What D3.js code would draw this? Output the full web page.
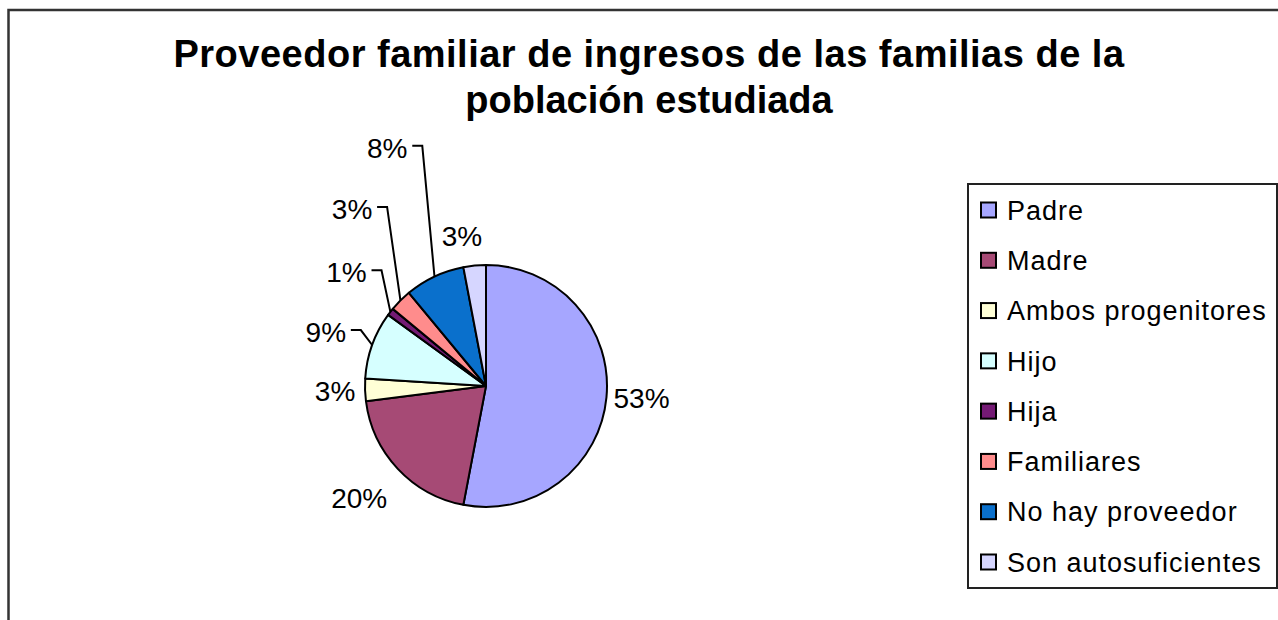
<!DOCTYPE html>
<html>
<head>
<meta charset="utf-8">
<script src="https://cdn.jsdelivr.net/npm/d3@7"></script>
<style>
  body { margin: 0; background: #fff; }
  svg text { font-family: Arial, "Liberation Sans", sans-serif; }
</style>
</head>
<body>
<div id="chart"></div>
<script>
// data
const categories = ["Padre", "Madre", "Ambos progenitores", "Hijo", "Hija", "Familiares", "No hay proveedor", "Son autosuficientes"];
const values = [53, 20, 3, 9, 1, 3, 8, 3];
const valueLabels = ["53%", "20%", "3%", "9%", "1%", "3%", "8%", "3%"];
const titleLines = ["Proveedor familiar de ingresos de las familias de la", "población estudiada"];

// styling / label placement (angle in degrees from 12 o'clock, distance from centre)
const colors = ["#a6a6ff", "#a64a75", "#ffffd6", "#d6ffff", "#741a74", "#ff8c8c", "#0a70cc", "#d6d6ff"];
const labelAngle = [94.4, 228.6, 268.1, 288.6, 309.2, 322.9, 337.5, 350.9];
const labelDist = [156, 169, 151, 169, 180, 222, 258, 152];
const hasLeader = [false, false, false, true, true, true, true, false];

const W = 1278, H = 620;
const cx = 486, cy = 386, radius = 121;

const svg = d3.select("#chart").append("svg")
    .attr("width", W)
    .attr("height", H);

// outer frame (runs off the right / bottom)
svg.append("rect")
    .attr("x", 8.5)
    .attr("y", 10)
    .attr("width", W + 20)
    .attr("height", H + 20)
    .attr("fill", "#fff")
    .attr("stroke", "#333")
    .attr("stroke-width", 2.5);

// title
svg.append("g").selectAll("text")
    .data(titleLines)
    .enter()
    .append("text")
    .attr("x", 649)
    .attr("y", (d, i) => 67 + i * 46)
    .attr("text-anchor", "middle")
    .style("font-size", "38px")
    .style("font-weight", "bold")
    .style("letter-spacing", (d, i) => i === 0 ? "0.5px" : "0px")
    .attr("fill", "#000")
    .text(d => d);

const pie = d3.pie().sort(null).value(d => d);
const arcs = pie(values);
const arc = d3.arc().innerRadius(0).outerRadius(radius);

const g = svg.append("g").attr("transform", `translate(${cx},${cy})`);

g.selectAll(".slice")
    .data(arcs)
    .enter()
    .append("path")
    .attr("class", "slice")
    .attr("d", arc)
    .attr("fill", (d, i) => colors[i])
    .attr("stroke", "#000")
    .attr("stroke-width", 2)
    .attr("stroke-linejoin", "round");

// value labels
const rad = Math.PI / 180;
const labelPos = arcs.map((d, i) => d3.pointRadial(labelAngle[i] * rad, labelDist[i]));

g.selectAll(".lbl")
    .data(arcs)
    .enter()
    .append("text")
    .attr("class", "lbl")
    .attr("x", (d, i) => labelPos[i][0])
    .attr("y", (d, i) => labelPos[i][1])
    .attr("dy", "0.36em")
    .attr("text-anchor", "middle")
    .style("font-size", "28px")
    .attr("fill", "#000")
    .text((d, i) => valueLabels[i]);

// leader lines
g.selectAll(".leader")
    .data(arcs.filter((d, i) => hasLeader[i]))
    .enter()
    .append("polyline")
    .attr("class", "leader")
    .attr("points", d => {
        const i = d.index;
        const halfW = valueLabels[i].length > 2 ? 28 : 20;
        const x0 = labelPos[i][0] + halfW + 5;
        const y0 = labelPos[i][1] - 2;
        const end = d3.pointRadial((d.startAngle + d.endAngle) / 2, radius);
        return [[x0, y0], [x0 + 10, y0], end].map(p => p.join(",")).join(" ");
    })
    .attr("fill", "none")
    .attr("stroke", "#000")
    .attr("stroke-width", 2);

// legend
const legendX = 968, legendY = 184, legendW = 309, legendH = 404;
svg.append("rect")
    .attr("x", legendX)
    .attr("y", legendY)
    .attr("width", legendW)
    .attr("height", legendH)
    .attr("fill", "#fff")
    .attr("stroke", "#222")
    .attr("stroke-width", 2);

const rowY = d3.scalePoint().domain(categories).range([210, 562]);

const items = svg.append("g").selectAll("g")
    .data(categories)
    .enter()
    .append("g")
    .attr("transform", d => `translate(0,${rowY(d)})`);

items.append("rect")
    .attr("x", 981)
    .attr("y", -7.5)
    .attr("width", 15)
    .attr("height", 15)
    .attr("fill", (d, i) => colors[i])
    .attr("stroke", "#000")
    .attr("stroke-width", 2);

items.append("text")
    .attr("x", 1007)
    .attr("dy", "0.36em")
    .style("font-size", "27px")
    .style("letter-spacing", "1px")
    .attr("fill", "#000")
    .text(d => d);
</script>
</body>
</html>
